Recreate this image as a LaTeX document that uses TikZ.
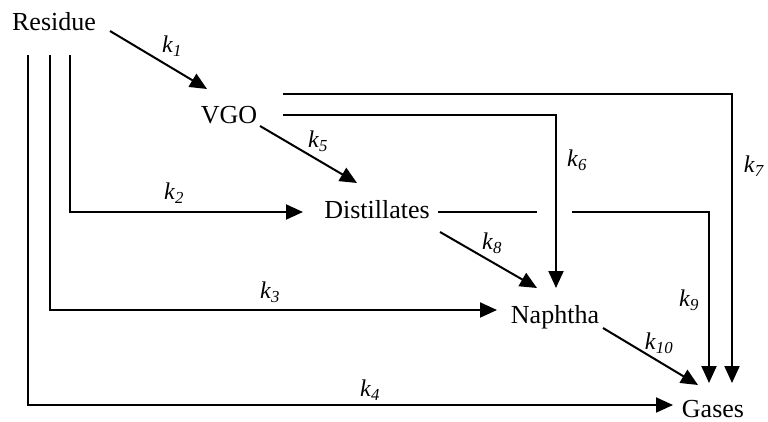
\documentclass[tikz,border=0pt]{standalone}
\usepackage{fontspec}
\setmainfont{Liberation Serif}
\usetikzlibrary{arrows.meta,calc}
\newcommand\kk[1]{\textit{k}\textsubscript{\textit{#1}}}
\begin{document}
\begin{tikzpicture}[x=1pt,y=-1pt,
  species/.style={inner sep=0pt,font=\fontsize{26}{29}\selectfont},
  klabel/.style={inner sep=0pt,font=\fontsize{24}{26}\selectfont},
  flow/.style={line width=2pt,-{Triangle[length=17pt,width=15pt]}},
  plain/.style={line width=2pt}]
\useasboundingbox (0,0) rectangle (768,422);
\node[species] (Residue) at (54,22) {Residue};
\node[species] (VGO) at (229,115) {VGO};
\node[species] (Distillates) at (377,210) {Distillates};
\node[species] (Naphtha) at (555,317) {Naphtha};
\node[species] (Gases) at (713,409) {Gases};
% k1, k5, k8, k10 diagonals
\draw[flow] ($(Residue)+(56,9)$) -- ($(VGO)+(-22,-26)$);
\draw[flow] ($(VGO)+(31,11)$) -- ($(Distillates)+(-20,-27)$);
\draw[flow] ($(Distillates)+(63,22)$) -- ($(Naphtha)+(-18,-29)$);
\draw[flow] ($(Naphtha)+(48,11)$) -- ($(Gases)+(-15,-24)$);
% from Residue
\draw[flow] ($(Residue)+(16,33)$) |- ($(Distillates)+(-74,2)$);
\draw[flow] ($(Residue)+(-4,33)$) |- ($(Naphtha)+(-58,-7)$);
\draw[flow] ($(Residue)+(-26,33)$) |- ($(Gases)+(-40,-4)$);
% from VGO
\draw[flow] ($(VGO)+(54,-21)$) -| ($(Gases)+(19,-26)$);
\draw[flow] ($(VGO)+(54,0)$) -| ($(Naphtha)+(1,-29)$);
% from Distillates
\draw[plain] ($(Distillates)+(61,2)$) -- ($(Distillates)+(160,2)$);
\draw[flow] ($(Distillates)+(195,2)$) -| ($(Gases)+(-4,-26)$);
% labels
\node[klabel] (k1) at (172,46) {\kk{1}};
\node[klabel] (k5) at (318,141) {\kk{5}};
\node[klabel] (k2) at (174,193) {\kk{2}};
\node[klabel] (k3) at (270,292) {\kk{3}};
\node[klabel] (k4) at (370,390) {\kk{4}};
\node[klabel] (k6) at (577,160) {\kk{6}};
\node[klabel] (k7) at (754,166) {\kk{7}};
\node[klabel] (k8) at (492,243) {\kk{8}};
\node[klabel] (k9) at (689,300) {\kk{9}};
\node[klabel] (k10) at (659,343) {\kk{10}};
\end{tikzpicture}
\end{document}
